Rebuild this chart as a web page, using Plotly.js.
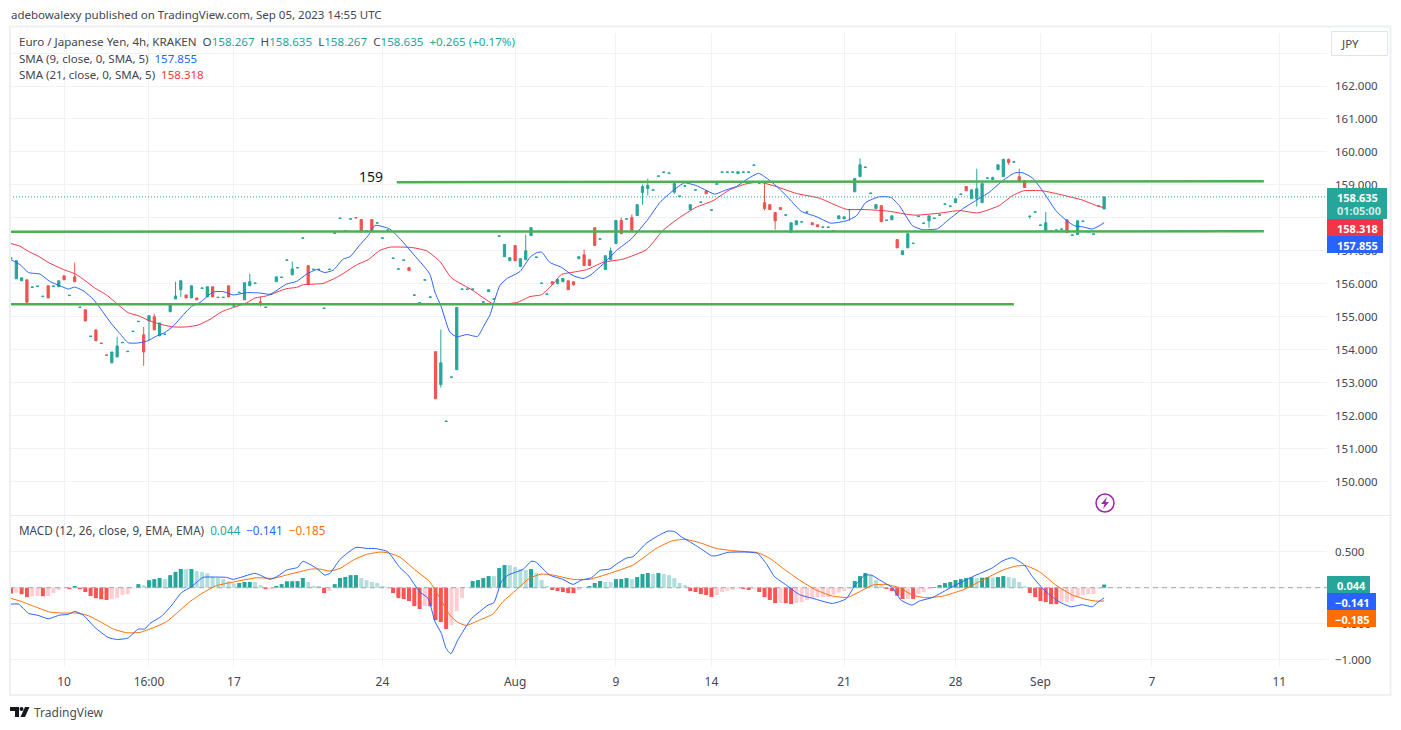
<!DOCTYPE html>
<html>
<head>
<meta charset="utf-8">
<script src="https://cdn.plot.ly/plotly-3.0.1.min.js"></script>
<style>html,body{margin:0;padding:0;background:#fff;overflow:hidden}</style>
</head>
<body>
<div id="chart" style="width:1401px;height:730px"></div>
<script>
// EUR/JPY 4h candles
var candleOpen=[156.77,156.15,156.09,156.12,155.89,155.92,155.61,155.94,155.92,155.91,
156.24,155.64,156.21,155.28,155.21,154.40,154.60,154.20,153.84,153.60,
153.78,154.21,153.94,154.55,154.85,154.45,154.87,155.00,154.42,154.46,
155.15,155.54,155.82,155.66,155.57,155.57,155.86,155.60,155.91,155.58,
155.58,155.94,155.32,155.73,155.51,155.94,156.01,155.45,155.28,155.67,
156.06,156.19,156.71,156.27,156.48,157.38,156.55,156.43,156.43,155.25,
156.43,157.53,157.98,157.59,157.96,158.01,157.95,157.59,157.95,157.84,
157.38,157.62,156.77,156.44,156.71,156.49,155.65,155.41,156.11,155.59,
153.94,152.94,151.82,153.16,153.39,155.83,155.83,155.83,155.38,155.44,
155.76,155.53,157.44,156.82,156.70,157.16,156.52,156.73,157.46,156.80,
156.01,155.68,156.06,156.00,156.06,156.09,156.06,156.76,156.88,156.73,
157.70,157.35,156.43,156.73,157.22,157.92,157.96,158.01,158.07,158.77,
158.89,158.84,159.26,159.38,159.35,158.78,158.65,158.96,158.25,158.84,
158.47,158.82,158.23,159.02,159.38,159.38,159.38,159.34,159.38,159.38,
159.59,159.05,158.46,158.40,158.16,158.31,158.08,157.56,157.79,157.87,
158.17,157.85,157.79,157.71,157.71,157.61,157.97,157.97,158.24,158.79,
159.25,159.53,158.74,158.28,158.37,157.92,157.94,157.34,156.88,157.09,
157.22,158.04,157.83,157.91,157.98,158.08,158.41,158.35,158.46,158.71,
158.95,158.58,158.58,158.46,159.20,159.16,159.46,159.25,159.77,159.69,
159.25,159.13,158.04,158.17,157.77,157.58,157.59,157.62,157.65,157.94,
157.47,157.49,157.89,157.57,157.50,158.35,158.267];
var candleClose=[156.78,156.70,156.18,155.44,155.90,155.93,155.62,155.57,155.93,156.09,
156.12,155.65,156.06,155.29,154.87,154.41,154.27,154.19,153.83,153.93,
154.11,154.22,153.95,154.56,154.86,153.93,155.03,154.60,154.81,154.47,
155.38,155.63,156.09,155.57,155.94,155.51,155.87,155.91,155.60,155.59,
155.59,155.60,155.33,155.74,156.03,156.06,156.02,155.44,155.29,155.68,
156.21,156.20,156.72,156.45,156.49,157.39,155.97,156.44,156.44,155.26,
156.44,157.54,157.99,157.60,157.97,158.00,157.57,157.60,157.60,157.85,
157.39,157.63,156.78,156.45,156.72,156.40,155.66,155.42,156.12,155.60,
152.51,153.60,151.83,153.17,155.28,155.84,155.84,155.84,155.39,155.45,
155.82,155.54,157.45,157.19,156.79,156.70,156.76,157.00,157.70,156.81,
156.02,155.69,155.99,156.13,156.16,155.82,155.97,156.82,156.55,156.55,
157.16,157.36,156.85,157.00,157.92,157.52,157.97,157.61,158.40,158.95,
158.98,158.85,159.27,159.39,159.36,159.04,158.66,158.97,158.40,158.85,
158.48,158.73,158.24,159.03,159.39,159.39,159.39,159.40,159.39,159.39,
159.60,159.06,158.28,158.25,157.91,158.25,158.09,157.85,157.91,157.88,
158.18,157.79,157.73,157.72,157.72,157.60,158.06,158.03,158.25,159.19,
159.61,159.54,158.75,158.40,157.88,157.93,158.06,157.09,157.00,157.52,
157.23,158.05,157.84,158.06,157.99,158.09,158.42,158.36,158.58,158.72,
158.82,158.85,158.88,159.04,159.21,159.22,159.61,159.77,159.68,159.70,
159.10,158.92,158.05,158.18,157.78,157.85,157.60,157.63,157.66,157.55,
157.48,157.91,157.90,157.58,157.51,158.36,158.635];
// only the bars that show a wick beyond the body
var wickBars=[3,12,20,25,26,27,31,32,45,47,53,81,97,106,108,113,115,117,119,120,125,142,144,158,160,173,182,185,187,188,190,192,195];
var wickHigh=[null,156.64,154.39,154.69,null,155.09,156.06,null,156.30,155.60,156.67,154.61,157.49,null,157.04,157.10,158.01,158.10,159.01,159.19,159.10,159.06,null,null,159.80,null,159.49,159.25,159.80,159.80,159.49,null,158.18];
var wickLow=[155.38,null,null,153.51,154.27,null,null,155.60,null,155.31,null,152.85,null,155.94,null,null,null,null,158.40,158.68,158.72,158.22,157.64,157.91,null,157.70,158.34,null,null,159.61,null,157.97,null];

// moving averages, read at the bends of each line
var sma9X=[0,1.7,3.3,5.5,7.3,9.2,10.8,12,13.6,15.5,16.8,19,20.5,22.1,23.7,25.5,27.4,29,30.6,32.5,34,35.6,38.1,40,41.9,44.4,46.9,48.8,51.9,53.8,55.7,57.6,59.1,60.7,62.6,63.9,65.8,67.3,68.6,71.4,73.9,75.5,78.9,79.9,81.1,82.7,84,85.9,87.9,89.3,90.2,92.1,93.4,95.9,97.8,99,100,101.5,103.7,105.9,107.8,109.1,111.6,114.1,116.9,120.1,122.3,124.8,126.9,129.1,130.7,132.6,134.8,136.7,138.5,140.9,143,144.8,146.7,148.9,151.7,154.5,157.4,159.3,161.1,163.7,165.8,167.4,169.9,171.8,174.6,176.8,179.3,181.8,184.3,186.9,189.1,190.6,192.5,194.4,196.9,198.8,200.4,201.9,203.7,205.1,206];
var sma9Y=[156.73,156.58,156.34,156.29,156.07,155.94,155.84,155.90,155.79,155.53,155.26,154.77,154.49,154.21,154.20,154.25,154.41,154.52,154.72,155.06,155.31,155.43,155.75,155.76,155.66,155.73,155.72,155.68,155.99,156.07,156.29,156.43,156.34,156.41,156.75,156.82,157.19,157.46,157.77,157.66,157.26,156.96,156.30,155.74,155.29,154.53,154.39,154.46,154.40,154.78,155.03,155.94,156.15,156.37,156.80,156.94,156.96,156.65,156.50,156.25,156.16,156.25,156.60,157.01,157.36,157.97,158.47,158.83,159.06,158.98,158.86,158.72,158.85,158.95,159.15,159.35,159.13,158.88,158.57,158.20,158.04,157.84,157.91,158.06,158.47,158.64,158.62,158.37,157.76,157.64,157.67,157.96,158.27,158.52,158.77,159.13,159.36,159.37,159.21,158.82,158.22,157.93,157.76,157.73,157.66,157.76,157.855];
var sma21X=[0,1.7,3.3,5.1,7,9.9,12.1,14,15.8,18,20.2,22.1,24,26.2,28.7,30.6,33.1,35.3,37.5,39.7,41.9,44.4,46,48.1,51.9,53.8,55.1,58.8,60.7,62,65.1,67.3,69.5,71.4,75.5,78.3,80.8,83,87.1,90.9,95.3,97.8,100,102.2,103.7,105.9,108.5,111.6,115.4,119.8,122.8,126,129.1,132.3,135.4,138.5,141.1,144.2,148,152.3,154.9,157.4,161.1,165.5,168.7,170.5,174.9,178.7,182.2,186.2,188.7,190.8,194.4,198.2,201.9,205.1,206];
var sma21Y=[157.22,157.14,156.98,156.84,156.65,156.43,156.30,156.09,155.87,155.66,155.36,155.12,155.03,154.87,154.75,154.69,154.69,154.75,154.92,155.15,155.28,155.42,155.57,155.63,155.85,155.89,155.97,156.01,156.14,156.25,156.57,156.73,157.01,157.11,157.10,157.00,156.68,156.18,155.79,155.39,155.43,155.61,155.67,156.00,156.28,156.35,156.43,156.65,156.75,157.04,157.61,158.01,158.32,158.52,158.85,159.03,159.08,158.95,158.74,158.60,158.42,158.26,158.25,158.20,158.11,158.08,158.14,158.22,158.15,158.37,158.67,158.82,158.82,158.69,158.54,158.34,158.318];

// hand drawn support and resistance lines
var levelStart=[72.7,-0.2,-0.2];
var levelEnd=[236.1,236.1,189];
var levelLeft=[159.08,157.58,155.38];
var levelRight=[159.11,157.59,155.38];

// MACD pane
var macdHist=[-.08,-.07,-.09,-.13,-.12,-.115,-.118,-.115,-.075,-.03,-.005,-.02,.025,-.02,-.06,-.115,-.145,-.16,-.17,-.16,
-.14,-.10,-.09,-.01,.05,.035,.105,.12,.135,.12,.175,.22,.26,.258,.26,.23,.22,.20,.15,.135,
.12,.09,.06,.065,.08,.081,.08,.035,-.02,-.018,.025,.05,.09,.091,.092,.135,.08,.025,.024,-.075,
-.045,.05,.135,.15,.175,.176,.135,.105,.08,.065,.025,-.005,-.075,-.145,-.157,-.185,-.255,-.296,-.255,-.258,
-.45,-.477,-.574,-.519,-.324,-.144,-.005,.093,.106,.134,.162,.16,.273,.315,.314,.287,.259,.245,.259,.204,
.106,.023,-.032,-.046,-.06,-.074,-.076,-.032,-.005,.023,.065,.093,.079,.078,.12,.121,.134,.12,.148,.19,
.204,.19,.204,.19,.176,.134,.065,.037,-.046,-.06,-.088,-.102,-.13,-.102,-.06,-.042,-.032,-.009,-.019,-.032,
-.019,-.06,-.13,-.171,-.213,-.212,-.215,-.227,-.213,-.199,-.171,-.148,-.134,-.13,-.129,-.097,-.069,-.046,-.01,.093,
.162,.204,.176,.106,.037,-.019,-.046,-.111,-.157,-.153,-.155,-.088,-.06,-.014,.009,.037,.065,.079,.106,.12,
.134,.144,.134,.14,.146,.145,.148,.162,.148,.134,.079,.023,-.074,-.13,-.185,-.199,-.227,-.228,-.199,-.198,
-.185,-.13,-.102,-.088,-.087,-.014,.044];
var macdX=[0,1.4,3.3,5.1,7,9.2,10.8,12,13.6,15.8,18.3,19.9,22,24,25.2,26.2,28.4,30.3,32.1,34,36.2,38.1,40.6,41.9,46,48.8,50.3,51.9,54,55,57.6,59.1,60.1,62,65,67,68.8,71,73.3,74.8,77,78.6,79.9,81.1,82,82.9,84.2,86.8,88.3,89.9,91,92.4,93.7,96.5,98,98.8,101.5,104,105.9,107.5,109.4,111,112.8,114.1,116,117.2,119.7,121.6,123.8,125.1,126.3,127.9,130.1,132,132.9,135.1,138.5,140.7,142.3,143.9,146.1,148.6,151.1,154.8,157.4,158.9,160.8,162.1,164,166.1,167.7,169.8,171.2,173.7,177.4,181.2,185,186.9,188.7,191,192.5,195,197.5,199.7,201.9,203.8,204.7,206];
var macdY=[-.227,-.227,-.356,-.384,-.431,-.38,-.37,-.329,-.38,-.551,-.69,-.718,-.70,-.574,-.574,-.495,-.394,-.241,-.069,.014,.144,.148,.144,.116,.199,.116,.162,.245,.282,.366,.269,.176,.199,.394,.56,.546,.542,.5,.278,.176,-.056,-.148,-.472,-.634,-.843,-.917,-.727,-.426,-.333,-.241,-.208,.083,.176,.255,.366,.361,.176,.116,.046,.106,.139,.241,.259,.329,.412,.431,.616,.708,.787,.778,.708,.639,.537,.444,.444,.491,.495,.477,.338,.153,.037,-.097,-.148,-.218,-.153,.014,.171,.176,.093,0,-.171,-.241,-.185,-.134,.014,.153,.278,.375,.417,.315,.153,-.056,-.194,-.264,-.236,-.264,-.208,-.141];
var signalX=[0,1.7,4.2,7.3,9.9,12.4,14.6,16.8,19.3,21.8,24.3,26.8,29.3,31.2,33.7,36.2,38.7,41.9,46.3,49.4,51.9,54.4,56.6,58.2,60.1,62,64.5,67,69.5,71,73.3,75.8,78.9,80.5,82.7,84.2,85.8,88.3,90.8,92.7,95.2,97.7,99.9,102.1,105.9,109,112.8,117.2,121.6,124.7,127.2,129.8,132.9,136,140.7,143,145.5,148.6,151.7,154.8,157.7,159.9,162.4,164.9,167.4,169.9,172.4,175.6,179.3,183.1,186.9,189.4,191.3,193.8,196.9,200,202.6,204.4,206];
var signalY=[-.148,-.185,-.255,-.338,-.352,-.352,-.389,-.472,-.574,-.625,-.62,-.556,-.472,-.356,-.194,-.069,.028,.079,.139,.13,.176,.222,.259,.259,.231,.269,.384,.463,.495,.486,.425,.269,.083,-.102,-.38,-.481,-.523,-.449,-.366,-.194,-.032,.13,.19,.176,.116,.116,.199,.315,.546,.653,.671,.625,.546,.514,.486,.407,.269,.106,-.032,-.116,-.134,-.056,.037,.046,0,-.102,-.139,-.116,-.032,.106,.245,.301,.306,.222,.037,-.102,-.162,-.185,-.185];

// axis ticks, the ones wholly under the value tags have no label
var priceTicks=[150,151,152,153,154,155,156,157,158,159,160,161,162,163];
var priceLabels=['150.000','151.000','152.000','153.000','154.000','155.000','156.000','157.000','','159.000','160.000','161.000','162.000',''];
var macdTicks=[-1,-.5,0,.5];
var macdLabels=['\u22121.000','\u22120.500','','0.500'];
var timeTicks=[10,26,42,70,95,114,132,157,178,194,215,239];
var timeLabels=['10','16:00','17','24','Aug','9','14','21','28','Sep','7','11'];

var UP='#26a69a',DOWN='#ef5350',BLUE='#2962ff',RED='#f23645',ORANGE='#ff6d00',GREEN='#4caf50';
var TXT='#434651',FRAME='#eef0f4',GRID='#f1f2f5',FONT='"Noto Sans",sans-serif';

var barIndex=[],candleHigh=[],candleLow=[],histColors=[];
for(let i=0;i<candleOpen.length;i++)
{
    barIndex.push(i);
    candleHigh.push(Math.max(candleOpen[i],candleClose[i]));
    candleLow.push(Math.min(candleOpen[i],candleClose[i]));
    let prev=i>0?macdHist[i-1]:0;
    if(macdHist[i]>=0) histColors.push(macdHist[i]>=prev?UP:'#b2dfdb');
    else histColors.push(macdHist[i]<prev?'#ff5252':'#ffcdd2');
}
wickBars.forEach(function(b,k){
    if(wickHigh[k]!==null) candleHigh[b]=wickHigh[k];
    if(wickLow[k]!==null) candleLow[b]=wickLow[k];
});

var W=1401,H=730;
function px(x){return x/W;}
function py(y){return 1-y/H;}

var xLeft=-0.19,xRight=248;
var traces=[];
traces.push({type:'candlestick',x:barIndex,open:candleOpen,high:candleHigh,low:candleLow,close:candleClose,
    xaxis:'x',yaxis:'y',hoverinfo:'skip',whiskerwidth:0,
    increasing:{line:{color:UP,width:1},fillcolor:UP},
    decreasing:{line:{color:DOWN,width:1},fillcolor:DOWN}});
traces.push({type:'scatter',mode:'lines',x:sma21X,y:sma21Y,line:{color:RED,width:1,shape:'spline',smoothing:0.5},xaxis:'x',yaxis:'y',hoverinfo:'skip'});
traces.push({type:'scatter',mode:'lines',x:sma9X,y:sma9Y,line:{color:BLUE,width:1,shape:'spline',smoothing:0.5},xaxis:'x',yaxis:'y',hoverinfo:'skip'});
for(let i=0;i<levelStart.length;i++)
{
    traces.push({type:'scatter',mode:'lines',x:[levelStart[i],levelEnd[i]],y:[levelLeft[i],levelRight[i]],
        line:{color:GREEN,width:2.5},xaxis:'x',yaxis:'y',hoverinfo:'skip'});
}
// last price line
traces.push({type:'scatter',mode:'lines',x:[xLeft,xRight],y:[candleClose[206],candleClose[206]],
    line:{color:UP,width:1,dash:'1px,2px'},xaxis:'x',yaxis:'y',hoverinfo:'skip'});

traces.push({type:'bar',x:barIndex,y:macdHist,width:0.75,marker:{color:histColors,line:{width:0}},xaxis:'x2',yaxis:'y2',hoverinfo:'skip'});
traces.push({type:'scatter',mode:'lines',x:[xLeft,xRight],y:[0,0],line:{color:'#a3a6af',width:1,dash:'5px,4px'},xaxis:'x2',yaxis:'y2',hoverinfo:'skip'});
traces.push({type:'scatter',mode:'lines',x:signalX,y:signalY,line:{color:ORANGE,width:1,shape:'spline',smoothing:0.5},xaxis:'x2',yaxis:'y2',hoverinfo:'skip'});
traces.push({type:'scatter',mode:'lines',x:macdX,y:macdY,line:{color:BLUE,width:1,shape:'spline',smoothing:0.5},xaxis:'x2',yaxis:'y2',hoverinfo:'skip'});

// fixed text placed by pixel
function label(x,y,text,size,color,anchor){
    return {xref:'paper',yref:'paper',x:px(x),y:py(y),text:text,showarrow:false,xanchor:anchor||'left',yanchor:'middle',
        font:{family:FONT,size:size||12,color:color||TXT},align:'left',borderpad:0};
}
function span(t,c){return '<span style="color:'+c+'">'+t+'</span>';}
function rect(x0,y0,x1,y1,fill,lineColor,lineWidth){
    return {type:'rect',xref:'paper',yref:'paper',x0:px(x0),x1:px(x1),y0:py(y0),y1:py(y1),layer:'above',
        fillcolor:fill,line:{color:lineColor||fill,width:lineColor?(lineWidth||1):0}};
}
function poly(points,fill){
    let d=points.map(function(p,i){return (i?'L':'M')+px(p[0])+','+py(p[1]);}).join(' ')+' Z';
    return {type:'path',xref:'paper',yref:'paper',path:d,fillcolor:fill,line:{width:0},layer:'above'};
}

var notes=[
    label(10,15,'adebowalexy published on TradingView.com, Sep 05, 2023 14:55 UTC',11.5,TXT),
    label(18,41,'Euro / Japanese Yen, 4h, KRAKEN  O'+span('158.267',UP)+'  H'+span('158.635',UP)+'  L'+span('158.267',UP)+'  C'+span('158.635',UP)+'  '+span('+0.265 (+0.17%)',UP),11.6,TXT),
    label(18,58,'SMA (9, close, 0, SMA, 5)  '+span('157.855',BLUE),11.5,TXT),
    label(18,75,'SMA (21, close, 0, SMA, 5)  '+span('158.318',RED),11.5,TXT),
    label(18,530,'MACD (12, 26, close, 9, EMA, EMA)  '+span('0.044',UP)+'  '+span('\u22120.141',BLUE)+'  '+span('\u22120.185',ORANGE),11.7,TXT),
    label(1340,43,'JPY',11.5,TXT),
    label(33,712,'TradingView',12,'#4a4d57'),
    {xref:'x',yref:'y',x:67.8,y:159.25,text:'159',showarrow:false,font:{family:FONT,size:14,color:'#131722'}},
    label(1336,197,'<b>158.635</b>',11,'#ffffff'),
    label(1336,211,'<b>01:05:00</b>',11,'#cfeae7'),
    label(1336,228,'<b>158.318</b>',11,'#ffffff'),
    label(1336,245,'<b>157.855</b>',11,'#ffffff'),
    label(1336,585,'<b>0.044</b>',11,'#ffffff'),
    label(1334,602,'<b>\u22120.141</b>',11,'#ffffff'),
    label(1334,619,'<b>\u22120.185</b>',11,'#ffffff')
];
var shapes=[
    rect(10,26.5,1390.5,695,'rgba(0,0,0,0)',FRAME,2),
    {type:'line',xref:'paper',yref:'paper',x0:px(10),x1:px(1391),y0:py(515.5),y1:py(515.5),line:{color:'#e8e9ef',width:1},layer:'above'},
    rect(1331.5,31.5,1387.5,55.5,'#ffffff','#e0e3eb'),
    rect(1327,188,1387,219,UP),
    rect(1327,219,1383,236,RED),
    rect(1327,236,1383,253,BLUE),
    rect(1327,576,1370,593,UP),
    rect(1327,593,1376,610,BLUE),
    rect(1327,610,1376,627,ORANGE),
    // lightning icon
    {type:'circle',xref:'paper',yref:'paper',x0:px(1096),x1:px(1114),y0:py(494),y1:py(512),fillcolor:'rgba(0,0,0,0)',line:{color:'#9c27b0',width:1.5},layer:'above'},
    poly([[1107,497],[1101,504],[1104.5,504],[1103,509],[1109,502],[1105.5,502]],'#9c27b0'),
    // TradingView logo
    poly([[10,707],[19,707],[19,717],[15,717],[15,711],[10,711]],'#131722'),
    {type:'circle',xref:'paper',yref:'paper',x0:px(19.5),x1:px(23.5),y0:py(707),y1:py(711),fillcolor:'#131722',line:{width:0},layer:'above'},
    poly([[25,707],[29.5,707],[25,717],[20.5,717]],'#131722')
];

var axisFont={family:FONT,size:11.5,color:TXT};
var timeFont={family:FONT,size:12,color:TXT};
var layout={
    width:W,height:H,margin:{l:0,r:0,t:0,b:0},paper_bgcolor:'#fff',plot_bgcolor:'#fff',showlegend:false,
    barmode:'overlay',boxgap:0.4,dragmode:false,font:{family:FONT},
    xaxis:{domain:[px(10),px(1327)],range:[xLeft,xRight],anchor:'y',rangeslider:{visible:false},
        tickvals:timeTicks,ticktext:timeLabels,showticklabels:false,ticks:'',showgrid:true,gridcolor:GRID,gridwidth:1,zeroline:false},
    yaxis:{domain:[py(515),py(33)],range:[148.984,163.608],side:'right',anchor:'x',tickvals:priceTicks,ticktext:priceLabels,
        tickfont:axisFont,ticks:'',ticklabelstandoff:7,showgrid:true,gridcolor:GRID,gridwidth:1,zeroline:false},
    xaxis2:{domain:[px(10),px(1327)],range:[xLeft,xRight],anchor:'y2',tickvals:timeTicks,ticktext:timeLabels,
        tickfont:timeFont,ticks:'',ticklabelstandoff:6,showgrid:true,gridcolor:GRID,gridwidth:1,zeroline:false},
    yaxis2:{domain:[py(667),py(516)],range:[-1.101,0.996],side:'right',anchor:'x2',tickvals:macdTicks,ticktext:macdLabels,
        tickfont:axisFont,ticks:'',ticklabelstandoff:7,showgrid:true,gridcolor:GRID,gridwidth:1,zeroline:false},
    shapes:shapes,annotations:notes
};
Plotly.newPlot('chart',traces,layout,{staticPlot:true,displayModeBar:false});
</script>
</body>
</html>
